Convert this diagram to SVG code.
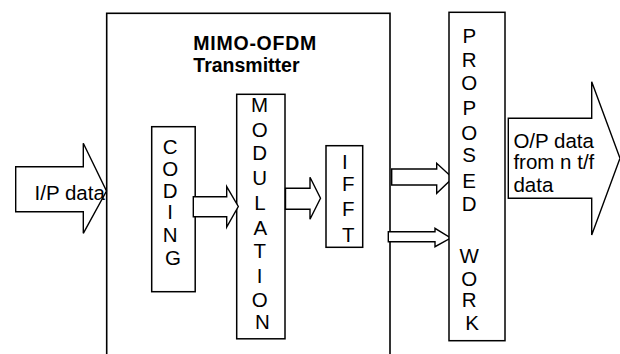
<svg xmlns="http://www.w3.org/2000/svg" width="620" height="354" viewBox="0 0 620 354">
<style>
  .box { fill: #ffffff; stroke: #000000; stroke-width: 1.5; }
  .frame { fill: none; stroke: #000000; stroke-width: 1.6; }
  .arrow { fill: #ffffff; stroke: #000000; stroke-width: 1.4; stroke-linejoin: miter; }
  .t { font-family: "Liberation Sans", Arial, sans-serif; font-size: 20.5px; fill: #000000; }
  .tb { font-family: "Liberation Sans", Arial, sans-serif; font-size: 19.5px; font-weight: bold; fill: #000000; }
  .mid { text-anchor: middle; }
</style>
<rect width="620" height="354" fill="#ffffff"/>

<g id="input-arrow">
  <polygon class="arrow" points="15.7,166.7 83.3,166.7 83.3,143.3 106.5,191 83.3,233.3 83.3,211.7 15.7,211.7"/>
</g>

<g id="transmitter">
  <rect class="frame" x="106.7" y="13.3" width="283.3" height="360"/>
  <text class="tb" x="193.3" y="50" textLength="123" lengthAdjust="spacing">MIMO-OFDM</text>
  <text class="tb" x="193.3" y="72.3">Transmitter</text>
</g>

<g id="input-label">
  <text class="t" x="34.5" y="200">I/P data</text>
</g>

<g id="coding">
  <rect class="box" x="151.7" y="126.7" width="43.5" height="165"/>
  <text class="t mid">
    <tspan x="173" y="153.5">C</tspan>
    <tspan x="173" y="175.5">O</tspan>
    <tspan x="173" y="197.5">D</tspan>
    <tspan x="173" y="218.5">I</tspan>
    <tspan x="173" y="242">N</tspan>
    <tspan x="173" y="265">G</tspan>
  </text>
</g>

<g id="modulation">
  <rect class="box" x="236.7" y="94.3" width="48.3" height="244.5"/>
  <text class="t mid">
    <tspan x="262.5" y="111.7">M</tspan>
    <tspan x="262.5" y="136.5">O</tspan>
    <tspan x="262.5" y="160.3">D</tspan>
    <tspan x="262.5" y="185">U</tspan>
    <tspan x="262.5" y="210">L</tspan>
    <tspan x="262.5" y="235">A</tspan>
    <tspan x="262.5" y="258.3">T</tspan>
    <tspan x="262.5" y="283">I</tspan>
    <tspan x="262.5" y="306.5">O</tspan>
    <tspan x="262.5" y="328.5">N</tspan>
  </text>
</g>

<g id="ifft">
  <rect class="box" x="326" y="145.7" width="36.7" height="101.6"/>
  <text class="t">
    <tspan x="342" y="168.7">I</tspan>
    <tspan x="342" y="190.7">F</tspan>
    <tspan x="342" y="216">F</tspan>
    <tspan x="342" y="241.5">T</tspan>
  </text>
</g>

<g id="connectors">
  <polygon class="arrow" points="193.3,196.7 226.7,196.7 226.7,186.7 238.3,206.5 226.7,227 226.7,216.7 193.3,216.7"/>
  <polygon class="arrow" points="285.5,188.3 310,188.3 310,177.3 320.5,198.3 310,219.3 310,209.3 285.5,209.3"/>
  <polygon class="arrow" points="391.7,169 436.7,169 436.7,163.3 452.7,178 436.7,193.3 436.7,185 391.7,185"/>
  <polygon class="arrow" points="388.3,231.7 435,231.7 435,228.3 450.7,238 435,246.7 435,241.7 388.3,241.7"/>
</g>

<g id="proposed-work">
  <rect class="box" x="449" y="12.3" width="56" height="328.4"/>
  <text class="t mid">
    <tspan x="472" y="43.3">P</tspan>
    <tspan x="472" y="66.7">R</tspan>
    <tspan x="472" y="90">O</tspan>
    <tspan x="472" y="115">P</tspan>
    <tspan x="472" y="140">O</tspan>
    <tspan x="472" y="161.7">S</tspan>
    <tspan x="472" y="188">E</tspan>
    <tspan x="472" y="210.5">D</tspan>
    <tspan x="472" y="263.3">W</tspan>
    <tspan x="472" y="285.5">O</tspan>
    <tspan x="472" y="307">R</tspan>
    <tspan x="472" y="330">K</tspan>
  </text>
</g>

<g id="output-arrow">
  <polygon class="arrow" points="508.3,118.3 591.7,118.3 591.7,81.7 620,158.3 591.7,235 591.7,198.3 508.3,198.3"/>
  <text class="t">
    <tspan x="513.4" y="147.7">O/P data</tspan>
    <tspan x="513.4" y="169.3">from n t/f</tspan>
    <tspan x="513.4" y="191.7">data</tspan>
  </text>
</g>
</svg>
